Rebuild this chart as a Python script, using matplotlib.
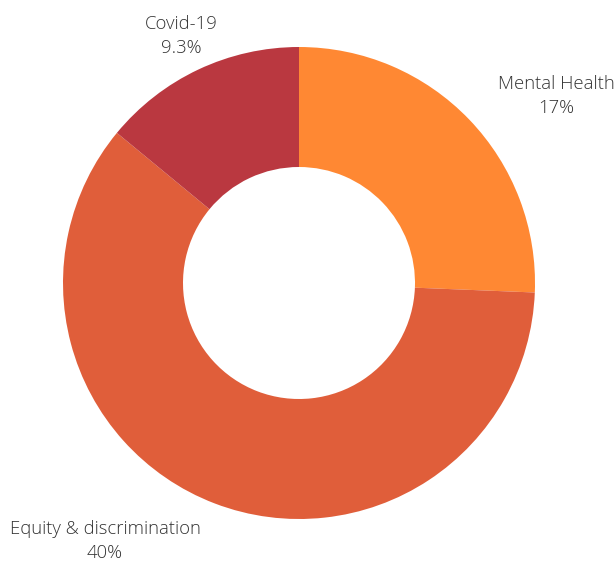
import matplotlib.pyplot as plt

# Dados
categorias = ['Mental Health', 'Equity & discrimination', 'Covid-19']
valores = [17, 40, 9.3]
rotulos_pct = ['17%', '40%', '9.3%']
cores = ['#FF8833', '#E05E3A', '#BA3840']

plt.rcParams['font.family'] = ['Open Sans', 'DejaVu Sans']

fig = plt.figure(figsize=(6.16, 5.63), dpi=100)
ax = fig.add_axes([0, 0, 1, 1])

# Rosca
ax.pie(valores, colors=cores, startangle=90, counterclock=False,
       center=(299, 280), radius=236, frame=True,
       wedgeprops=dict(width=120, linewidth=0))
ax.set_xlim(0, 616)
ax.set_ylim(0, 563)
ax.set_aspect('equal')
ax.axis('off')

# Rótulos
posicoes = [(556, 467), (105, 22), (181, 527)]
for nome, pct, (x, y) in zip(categorias, rotulos_pct, posicoes):
    ax.text(x, y, f'{nome}\n{pct}', ha='center', va='center', fontsize=13.3,
            color='#333333', fontweight='light', linespacing=1.42)

plt.savefig('out.png', dpi=100)
